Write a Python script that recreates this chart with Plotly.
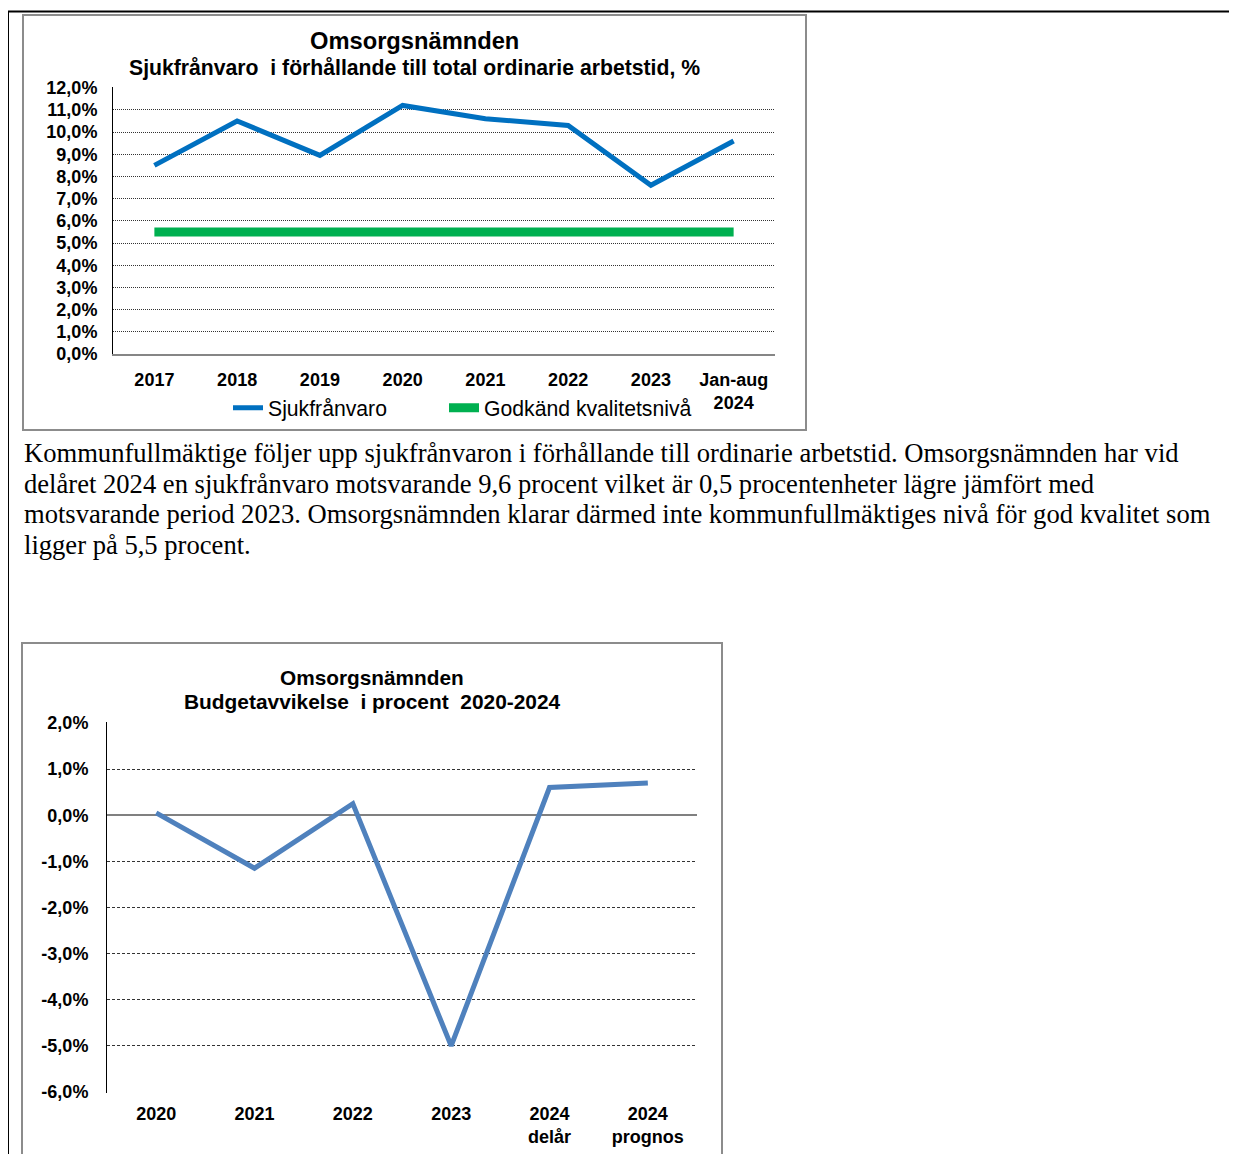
import plotly.graph_objects as go

# page offset: the figure sits inside the page body (8px margin)
OFF = 8
W, H = 1237 - OFF, 1154 - OFF

# ---------------- data ----------------
cat1 = ["2017", "2018", "2019", "2020", "2021", "2022", "2023", "Jan-aug<br>2024"]
sjukfranvaro = [8.5, 10.5, 8.95, 11.2, 10.6, 10.3, 7.6, 9.6]
godkand = [5.5, 5.5, 5.5, 5.5, 5.5, 5.5, 5.5, 5.5]
y1_vals = [0, 1, 2, 3, 4, 5, 6, 7, 8, 9, 10, 11, 12]
y1_text = ["0,0%", "1,0%", "2,0%", "3,0%", "4,0%", "5,0%", "6,0%", "7,0%",
           "8,0%", "9,0%", "10,0%", "11,0%", "12,0%"]

cat2 = ["2020", "2021", "2022", "2023", "2024<br>delår", "2024<br>prognos"]
budgetavvikelse = [0.05, -1.15, 0.25, -5.0, 0.6, 0.7]
y2_vals = [-6, -5, -4, -3, -2, -1, 0, 1, 2]
y2_text = ["-6,0%", "-5,0%", "-4,0%", "-3,0%", "-2,0%", "-1,0%", "0,0%", "1,0%", "2,0%"]

paragraph = [
    "Kommunfullmäktige följer upp sjukfrånvaron i förhållande till ordinarie arbetstid. Omsorgsnämnden har vid",
    "delåret 2024 en sjukfrånvaro motsvarande 9,6 procent vilket är 0,5 procentenheter lägre jämfört med",
    "motsvarande period 2023. Omsorgsnämnden klarar därmed inte kommunfullmäktiges nivå för god kvalitet som",
    "ligger på 5,5 procent.",
]

SANS = "Liberation Sans, Arial, sans-serif"
SERIF = "Liberation Serif, Times New Roman, serif"


def px(x):
    return (x - OFF) / W


def py(y):
    return 1 - (y - OFF) / H


fig = go.Figure()

fig.add_trace(go.Scatter(
    x=cat1, y=sjukfranvaro, mode="lines", name="Sjukfrånvaro",
    line=dict(color="#0070C0", width=5), xaxis="x", yaxis="y", legend="legend"))
fig.add_trace(go.Scatter(
    x=cat1, y=godkand, mode="lines", name="Godkänd kvalitetsnivå",
    line=dict(color="#00B050", width=9), xaxis="x", yaxis="y", legend="legend2"))
fig.add_trace(go.Scatter(
    x=cat2, y=budgetavvikelse, mode="lines", name="Budgetavvikelse",
    line=dict(color="#4F81BD", width=5), xaxis="x2", yaxis="y2", showlegend=False))

tickfont = dict(family=SANS, size=18, color="black", weight="bold")
legfont = dict(family=SANS, size=21.2, color="black")

fig.update_layout(
    width=W, height=H, autosize=False,
    margin=dict(l=0, r=0, t=0, b=0, pad=0, autoexpand=False),
    paper_bgcolor="white", plot_bgcolor="white",
    font=dict(family=SANS, color="black"),
    xaxis=dict(domain=[px(113), px(775)], type="category", anchor="y",
               range=[-0.5, len(cat1) - 0.5], automargin=False,
               showgrid=False, showline=True, linecolor="#868686", linewidth=2,
               ticks="", tickfont=tickfont, ticklabelstandoff=8, zeroline=False),
    yaxis=dict(domain=[py(354), py(87)], range=[0, 12.03], anchor="x", automargin=False,
               tickvals=y1_vals, ticktext=y1_text, tickfont=tickfont,
               showgrid=True, gridcolor="#333333", gridwidth=1, griddash="1px,1px",
               showline=True, linecolor="black", linewidth=1, ticks="",
               ticklabelstandoff=11, zeroline=False),
    xaxis2=dict(domain=[px(107), px(697)], type="category", anchor="y2",
                range=[-0.5, len(cat2) - 0.5], automargin=False,
                showgrid=False, showline=False, ticks="", tickfont=tickfont,
                ticklabelstandoff=8, zeroline=False),
    yaxis2=dict(domain=[py(1093), py(722)], range=[-6.02, 2.02], anchor="x2",
                automargin=False,
                tickvals=y2_vals, ticktext=y2_text, tickfont=tickfont,
                showgrid=True, gridcolor="#333333", gridwidth=1, griddash="3px,2px",
                showline=True, linecolor="black", linewidth=1, ticks="",
                ticklabelstandoff=14, zeroline=True, zerolinecolor="#808080",
                zerolinewidth=2),
    showlegend=True,
    legend=dict(orientation="h", x=px(228), xanchor="left", y=py(408), yanchor="middle",
                font=legfont, bgcolor="rgba(0,0,0,0)"),
    legend2=dict(orientation="h", x=px(444), xanchor="left", y=py(408), yanchor="middle",
                 font=legfont, bgcolor="rgba(0,0,0,0)"),
)

annotations = [
    dict(text="<b>Omsorgsnämnden</b>", x=px(414), y=py(41), font=dict(size=23.7)),
    dict(text="<b>Sjukfrånvaro  i förhållande till total ordinarie arbetstid, %</b>",
         x=px(414), y=py(68), font=dict(size=21.2)),
    dict(text="<b>Omsorgsnämnden</b>", x=px(372), y=py(677), font=dict(size=20.8)),
    dict(text="<b>Budgetavvikelse  i procent  2020-2024</b>", x=px(373), y=py(701),
         font=dict(size=20.9)),
]
for a in annotations:
    a.update(xref="paper", yref="paper", showarrow=False, xanchor="center",
             yanchor="middle")
    a["font"].update(family=SANS, color="black")
    fig.add_annotation(**a)

for i, line in enumerate(paragraph):
    fig.add_annotation(text=line, x=px(22), y=py(453 + i * 30.7), xref="paper",
                       yref="paper", showarrow=False, xanchor="left", yanchor="middle",
                       font=dict(family=SERIF, size=26.6, color="black"))

shapes = [
    # page frame
    dict(type="line", x0=0, x1=1, y0=py(11.5), y1=py(11.5), line=dict(color="black", width=2)),
    dict(type="line", x0=px(8.5), x1=px(8.5), y0=py(11), y1=0, line=dict(color="black", width=1)),
    # chart boxes
    dict(type="rect", x0=px(23), x1=px(806), y0=py(15), y1=py(430),
         line=dict(color="#8c8c8c", width=2)),
    dict(type="rect", x0=px(22), x1=px(722), y0=py(643), y1=py(1170),
         line=dict(color="#8c8c8c", width=2)),
]
for s in shapes:
    s.update(xref="paper", yref="paper", layer="below")
    fig.add_shape(**s)

fig.write_html("out.html")
